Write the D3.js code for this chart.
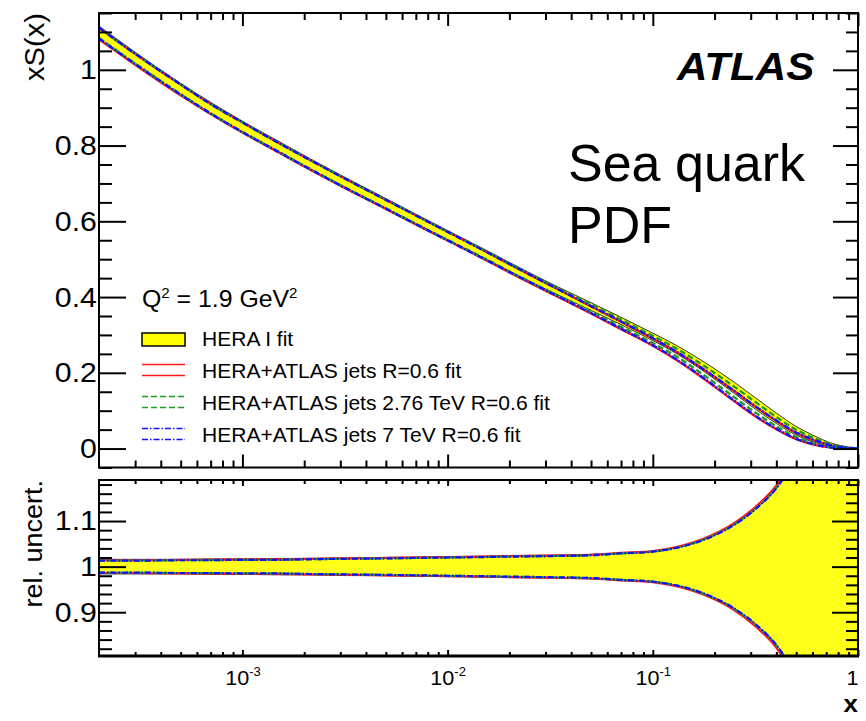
<!DOCTYPE html>
<html>
<head>
<meta charset="utf-8">
<script src="https://cdn.jsdelivr.net/npm/d3@7"></script>
<style>
  html, body { margin: 0; padding: 0; background: #fff; }
  svg { display: block; }
  text { font-family: "Liberation Sans", Arial, Helvetica, sans-serif; fill: #000; }
</style>
</head>
<body>
<svg id="chart" width="866" height="721"></svg>
<script>
// Momentum fraction grid
const xs = [2e-4, 3e-4, 5e-4, 7e-4, 1e-3, 1.5e-3, 2e-3, 3e-3, 5e-3, 7e-3, 1e-2, 1.5e-2, 2e-2, 3e-2, 5e-2, 7e-2, 0.1, 0.13, 0.18, 0.25, 0.32, 0.4, 0.5, 0.6, 0.75, 0.9, 1.0];

// xS(x) central values for each fit
const heraCentral  = [1.098, 1.030, 0.949, 0.899, 0.850, 0.797, 0.760, 0.709, 0.647, 0.606, 0.563, 0.515, 0.480, 0.432, 0.375, 0.337, 0.295, 0.262, 0.214, 0.160, 0.117, 0.080, 0.047, 0.027, 0.009, 0.002, 0.0];
const redCentral   = [1.096, 1.028, 0.947, 0.897, 0.848, 0.795, 0.758, 0.707, 0.645, 0.604, 0.561, 0.512, 0.476, 0.427, 0.366, 0.325, 0.281, 0.245, 0.194, 0.138, 0.096, 0.062, 0.033, 0.017, 0.005, 0.001, 0.0];
const greenCentral = [1.098, 1.030, 0.949, 0.898, 0.849, 0.796, 0.759, 0.708, 0.646, 0.605, 0.562, 0.514, 0.478, 0.430, 0.371, 0.331, 0.288, 0.254, 0.204, 0.149, 0.107, 0.071, 0.040, 0.022, 0.007, 0.0015, 0.0];
const blueCentral  = [1.097, 1.029, 0.948, 0.897, 0.848, 0.795, 0.758, 0.707, 0.645, 0.604, 0.561, 0.512, 0.477, 0.428, 0.367, 0.326, 0.282, 0.246, 0.195, 0.139, 0.097, 0.063, 0.034, 0.018, 0.005, 0.001, 0.0];

// Relative uncertainties (half widths)
const heraUnc  = [0.016, 0.016, 0.016, 0.017, 0.017, 0.018, 0.018, 0.019, 0.020, 0.021, 0.022, 0.023, 0.024, 0.025, 0.027, 0.029, 0.033, 0.041, 0.060, 0.092, 0.128, 0.172, 0.240, 0.330, 0.500, 0.800, 1.200];
const redUnc   = [0.014, 0.014, 0.015, 0.015, 0.016, 0.016, 0.017, 0.018, 0.019, 0.020, 0.021, 0.022, 0.023, 0.024, 0.026, 0.030, 0.034, 0.043, 0.063, 0.096, 0.133, 0.178, 0.250, 0.340, 0.520, 0.820, 1.200];
const greenUnc = [0.013, 0.013, 0.014, 0.014, 0.015, 0.015, 0.016, 0.017, 0.018, 0.019, 0.020, 0.021, 0.022, 0.023, 0.025, 0.029, 0.033, 0.041, 0.061, 0.093, 0.129, 0.173, 0.245, 0.335, 0.510, 0.810, 1.200];
const blueUnc  = [0.013, 0.013, 0.014, 0.014, 0.015, 0.015, 0.016, 0.017, 0.018, 0.019, 0.020, 0.021, 0.022, 0.023, 0.025, 0.029, 0.033, 0.041, 0.060, 0.092, 0.128, 0.172, 0.242, 0.332, 0.505, 0.805, 1.200];

// Tick values and labels
const xMajor = [1e-3, 1e-2, 1e-1, 1];
const xMinor = [3e-4,4e-4,5e-4,6e-4,7e-4,8e-4,9e-4, 2e-3,3e-3,4e-3,5e-3,6e-3,7e-3,8e-3,9e-3, 2e-2,3e-2,4e-2,5e-2,6e-2,7e-2,8e-2,9e-2, 0.2,0.3,0.4,0.5,0.6,0.7,0.8,0.9];
const xTickBase = ["10", "10", "10", ""];
const xTickExp  = ["-3", "-2", "-1", ""];
const xTickPlain = ["", "", "", "1"];
const yTopMajor = [0, 0.2, 0.4, 0.6, 0.8, 1.0];
const yTopLabels = ["0", "0.2", "0.4", "0.6", "0.8", "1"];
const yTopMinor = [-0.05, 0.05, 0.1, 0.15, 0.25, 0.3, 0.35, 0.45, 0.5, 0.55, 0.65, 0.7, 0.75, 0.85, 0.9, 0.95, 1.05, 1.1, 1.15];
const yRelMajor = [0.9, 1.0, 1.1];
const yRelLabels = ["0.9", "1", "1.1"];
const yRelMinor = [0.82, 0.84, 0.86, 0.88, 0.92, 0.94, 0.96, 0.98, 1.02, 1.04, 1.06, 1.08, 1.12, 1.14, 1.16, 1.18];

const legendItems = ["HERA I fit", "HERA+ATLAS jets R=0.6 fit", "HERA+ATLAS jets 2.76 TeV R=0.6 fit", "HERA+ATLAS jets 7 TeV R=0.6 fit"];

// Layout
const L = 99, R = 858;
const topY0 = 13, topY1 = 467.5;
const relY0 = 480, relY1 = 656;
const SX = 1.08; // horizontal text stretch

const svg = d3.select("#chart");
const x = d3.scaleLog().domain([2e-4, 1]).range([L, R]);
const yTop = d3.scaleLinear().domain([-0.05, 1.15]).range([topY1, topY0]);
const yRel = d3.scaleLinear().domain([0.804, 1.19]).range([relY1, relY0]);

const defs = svg.append("defs");
defs.append("clipPath").attr("id", "clipTop").append("rect")
  .attr("x", L).attr("y", topY0).attr("width", R - L).attr("height", topY1 - topY0);
defs.append("clipPath").attr("id", "clipRel").append("rect")
  .attr("x", L).attr("y", relY0).attr("width", R - L).attr("height", relY1 - relY0);

const pts = xs.map((v, i) => i);

const fits = [
  { c: redCentral,   u: redUnc,   color: "#ff1a1a", dash: null },
  { c: greenCentral, u: greenUnc, color: "#1f9e1f", dash: "6,3" },
  { c: blueCentral,  u: blueUnc,  color: "#1010ff", dash: "6,2,1.5,2" }
];

// ---- upper panel: xS(x) ----
const gTop = svg.append("g").attr("clip-path", "url(#clipTop)");
gTop.append("path")
  .attr("d", d3.area()
    .x(i => x(xs[i]))
    .y0(i => yTop(heraCentral[i] * (1 - heraUnc[i])))
    .y1(i => yTop(heraCentral[i] * (1 + heraUnc[i])))
    .curve(d3.curveMonotoneX)(pts))
  .attr("fill", "#ffff00").attr("stroke", "#333").attr("stroke-width", 1);

fits.forEach(f => {
  [1, -1].forEach(s => {
    gTop.append("path")
      .attr("d", d3.line()
        .x(i => x(xs[i]))
        .y(i => yTop(f.c[i] * (1 + s * f.u[i])))
        .curve(d3.curveMonotoneX)(pts))
      .attr("fill", "none").attr("stroke", f.color).attr("stroke-width", 2.4)
      .attr("stroke-dasharray", f.dash);
  });
});

// ---- lower panel: relative uncertainty ----
const gRel = svg.append("g").attr("clip-path", "url(#clipRel)");
gRel.append("path")
  .attr("d", d3.area()
    .x(i => x(xs[i]))
    .y0(i => yRel(1 - heraUnc[i]))
    .y1(i => yRel(1 + heraUnc[i]))
    .curve(d3.curveMonotoneX)(pts))
  .attr("fill", "#ffff1a").attr("stroke", "#333").attr("stroke-width", 1);

fits.forEach(f => {
  [1, -1].forEach(s => {
    gRel.append("path")
      .attr("d", d3.line()
        .x(i => x(xs[i]))
        .y(i => yRel(1 + s * f.u[i]))
        .curve(d3.curveMonotoneX)(pts))
      .attr("fill", "none").attr("stroke", f.color).attr("stroke-width", 2.2)
      .attr("stroke-dasharray", f.dash);
  });
});

// ---- axes ----
function drawAxis(axis, tx, ty) {
  const g = svg.append("g").attr("transform", `translate(${tx},${ty})`).call(axis);
  g.select(".domain").remove();
  g.selectAll(".tick line").attr("stroke", "#000").attr("stroke-width", 2);
  return g;
}
const noLab = () => "";

// upper panel x ticks (top and bottom, pointing inwards)
drawAxis(d3.axisBottom(x).tickValues(xMajor).tickSize(13).tickFormat(noLab), 0, topY0);
drawAxis(d3.axisBottom(x).tickValues(xMinor).tickSize(7).tickFormat(noLab), 0, topY0);
drawAxis(d3.axisTop(x).tickValues(xMajor).tickSize(13).tickFormat(noLab), 0, topY1);
drawAxis(d3.axisTop(x).tickValues(xMinor).tickSize(7).tickFormat(noLab), 0, topY1);

// lower panel x ticks
drawAxis(d3.axisBottom(x).tickValues(xMajor).tickSize(6).tickFormat(noLab), 0, relY0);
drawAxis(d3.axisBottom(x).tickValues(xMinor).tickSize(4).tickFormat(noLab), 0, relY0);
drawAxis(d3.axisTop(x).tickValues(xMajor).tickSize(6).tickFormat(noLab), 0, relY1);
drawAxis(d3.axisTop(x).tickValues(xMinor).tickSize(4).tickFormat(noLab), 0, relY1);

// lower panel x labels with superscript exponents
const xLab = drawAxis(d3.axisBottom(x).tickValues(xMajor).tickSize(0).tickPadding(15).tickFormat(noLab), 0, relY1);
xLab.selectAll(".tick text").each(function(d, i) {
  const t = d3.select(this).attr("font-size", 20).attr("font-family", null)
    .attr("dy", "0.71em").attr("transform", `scale(${SX},1)`);
  t.text(null);
  if (xTickPlain[i]) {
    t.attr("text-anchor", "end").attr("x", 0).text(xTickPlain[i]);
  } else {
    t.append("tspan").text(xTickBase[i]);
    t.append("tspan").attr("font-size", 12).attr("dy", "-0.75em").text(xTickExp[i]);
  }
});

// upper panel y
const yTopAxis = drawAxis(d3.axisLeft(yTop).tickValues(yTopMajor).tickSize(-27).tickPadding(2)
  .tickFormat((d, i) => yTopLabels[i]), L, 0);
yTopAxis.selectAll(".tick text").attr("font-size", 28).attr("font-family", null)
  .attr("transform", `scale(${SX},1)`);
drawAxis(d3.axisLeft(yTop).tickValues(yTopMinor).tickSize(-13).tickFormat(noLab), L, 0);
drawAxis(d3.axisLeft(yTop).tickValues(yTopMajor).tickSize(25).tickFormat(noLab), R, 0);
drawAxis(d3.axisLeft(yTop).tickValues(yTopMinor).tickSize(12).tickFormat(noLab), R, 0);

// lower panel y
const yRelAxis = drawAxis(d3.axisLeft(yRel).tickValues(yRelMajor).tickSize(-27).tickPadding(2)
  .tickFormat((d, i) => yRelLabels[i]), L, 0);
yRelAxis.selectAll(".tick text").attr("font-size", 28).attr("font-family", null)
  .attr("transform", `scale(${SX},1)`);
drawAxis(d3.axisLeft(yRel).tickValues(yRelMinor).tickSize(-13).tickFormat(noLab), L, 0);
drawAxis(d3.axisLeft(yRel).tickValues(yRelMajor).tickSize(26).tickFormat(noLab), R, 0);
drawAxis(d3.axisLeft(yRel).tickValues(yRelMinor).tickSize(12).tickFormat(noLab), R, 0);

// frames
svg.append("rect").attr("x", L).attr("y", topY0).attr("width", R - L).attr("height", topY1 - topY0)
  .attr("fill", "none").attr("stroke", "#000").attr("stroke-width", 2);
svg.append("rect").attr("x", L).attr("y", relY0).attr("width", R - L).attr("height", relY1 - relY0)
  .attr("fill", "none").attr("stroke", "#000").attr("stroke-width", 2);
svg.append("line").attr("x1", L - 1).attr("x2", R + 1).attr("y1", relY1).attr("y2", relY1)
  .attr("stroke", "#000").attr("stroke-width", 3);

// ---- text ----
function label(tx, ty, str, opts = {}) {
  const t = svg.append("text")
    .attr("transform", `translate(${tx},${ty}) ${opts.rot ? "rotate(-90)" : ""} scale(${opts.sx || SX},1)`)
    .attr("font-size", opts.size || 20)
    .attr("text-anchor", opts.anchor || "start");
  if (opts.weight) t.attr("font-weight", opts.weight);
  if (opts.style) t.attr("font-style", opts.style);
  t.text(str);
  return t;
}

// axis titles
label(44, topY0, "xS(x)", { rot: true, anchor: "end", size: 27 });
label(42, relY0, "rel. uncert.", { rot: true, anchor: "end", size: 25 });
label(R, 712, "x", { anchor: "end", size: 24, weight: "bold" });

// experiment tag and annotation
label(677, 80, "ATLAS", { size: 39, weight: "bold", style: "italic" });
label(568, 181, "Sea quark", { size: 52, sx: 1 });
label(568, 243, "PDF", { size: 52, sx: 1 });

// scale label
const q = label(142, 307, "", { size: 23 });
q.append("tspan").text("Q");
q.append("tspan").attr("font-size", 14).attr("dy", -9).text("2");
q.append("tspan").attr("dy", 9).text(" = 1.9 GeV");
q.append("tspan").attr("font-size", 14).attr("dy", -9).text("2");

// legend
const legX0 = 142, legX1 = 185, legTextX = 202;
const legBase = [346, 378, 410, 442];
svg.append("rect").attr("x", legX0).attr("y", 333).attr("width", legX1 - legX0).attr("height", 13)
  .attr("fill", "#ffff00").attr("stroke", "#000").attr("stroke-width", 1.5);
fits.forEach((f, k) => {
  const yc = legBase[k + 1] - 8;
  [-5.5, 5.5].forEach(o => {
    svg.append("line").attr("x1", legX0).attr("x2", legX1).attr("y1", yc + o).attr("y2", yc + o)
      .attr("stroke", f.color).attr("stroke-width", 1.6).attr("stroke-dasharray", f.dash);
  });
});
legendItems.forEach((s, k) => label(legTextX, legBase[k], s, { size: 19.5 }));
</script>
</body>
</html>
